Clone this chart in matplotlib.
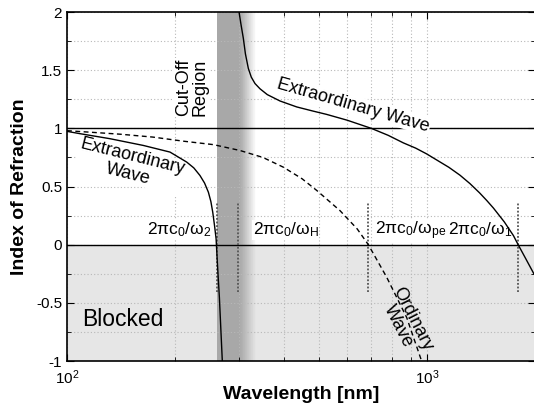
import numpy as np
import matplotlib.pyplot as plt
from matplotlib.ticker import MultipleLocator, LogLocator, NullFormatter

plt.rcParams['font.family'] = ['Liberation Sans', 'DejaVu Sans']
plt.rcParams['mathtext.fontset'] = 'custom'
plt.rcParams['mathtext.rm'] = 'Liberation Sans'
plt.rcParams['mathtext.it'] = 'Liberation Sans:italic'
plt.rcParams['mathtext.bf'] = 'Liberation Sans:bold'

# Extraordinary wave, short-wavelength branch (nm, index)
ext_left_x = [100, 108.7, 131.6, 162.9, 193.2, 215, 225, 234, 241, 247, 251, 254, 257, 259.5, 261, 263, 265, 270]
ext_left_y = [0.974, 0.954, 0.911, 0.853, 0.796, 0.71, 0.66, 0.595, 0.53, 0.451, 0.37, 0.278, 0.16, 0.05, -0.1, -0.28, -0.454, -1.0]

# Extraordinary wave, long-wavelength branch
ext_right_x = [300.5, 304, 308.9, 313, 318.9, 325, 332.8, 343.6, 360, 390.6, 434.6, 480, 526, 600, 700,
               780, 859.5, 930, 998, 1064, 1150, 1235, 1316, 1400, 1465, 1529, 1640, 1738, 1791, 1880, 1983]
ext_right_y = [2.0, 1.9, 1.773, 1.64, 1.515, 1.44, 1.385, 1.34, 1.29, 1.235, 1.184, 1.15, 1.12, 1.07, 1.0,
               0.94, 0.875, 0.83, 0.78, 0.728, 0.665, 0.597, 0.525, 0.445, 0.38, 0.315, 0.195, 0.078, 0.0, -0.12, -0.253]

# Ordinary wave
ord_x = [100, 140, 173, 210, 255, 302, 350, 399, 450, 494, 573, 640, 687, 773, 878, 966]
ord_y = [0.98, 0.95, 0.925, 0.89, 0.86, 0.81, 0.75, 0.666, 0.566, 0.466, 0.293, 0.135, 0.0, -0.281, -0.626, -1.0]

# characteristic wavelengths (nm) and their labels
marker_x = [261.5, 298.6, 687, 1790]
marker_labels = [r'$\mathrm{2\pi c_0/\omega_2}$', r'$\mathrm{2\pi c_0/\omega_H}$',
                 r'$\mathrm{2\pi c_0/\omega_{pe}}$', r'$\mathrm{2\pi c_0/\omega_1}$']
label_x = [252, 328, 718, 1730]
label_ha = ['right', 'left', 'left', 'right']

# cut-off band (nm)
cut_lo, cut_hi, cut_fade = 261, 302, 335

fig = plt.figure(figsize=(5.34, 4.07), dpi=100)
ax = fig.add_axes([0.1255, 0.113, 0.8771, 0.8575])
ax.set_xscale('log')
ax.set_xlim(100, 2000)
ax.set_ylim(-1, 2)

# blocked region
ax.axhspan(-1, 0, color='#e6e6e6', lw=0, zorder=0.2)

# cut-off band with fade on the right
ax.axvspan(cut_lo, cut_hi, color='#a8a8a8', lw=0, zorder=0.3)
edges = np.geomspace(cut_hi, cut_fade, 25)
for i in range(len(edges) - 1):
    a = 1 - (i + 0.5) / (len(edges) - 1)
    ax.axvspan(edges[i], edges[i + 1], color='#a8a8a8', alpha=a, lw=0, zorder=0.3)

# ticks and grid
ax.yaxis.set_major_locator(MultipleLocator(0.5))
ax.yaxis.set_minor_locator(MultipleLocator(0.25))
ax.xaxis.set_minor_locator(LogLocator(subs=np.arange(2, 10)))
ax.xaxis.set_minor_formatter(NullFormatter())
ax.set_yticks([-1, -0.5, 0, 0.5, 1, 1.5, 2])
ax.set_yticklabels(['-1', '-0.5', '0', '0.5', '1', '1.5', '2'])
ax.grid(True, which='both', linestyle=(0, (1, 2)), color='#b8b8b8', lw=0.8)
ax.set_axisbelow('line')

ax.axhline(1, color='black', lw=1, zorder=2)
ax.axhline(0, color='black', lw=1, zorder=2)

ax.plot(ext_left_x, ext_left_y, color='black', lw=1, zorder=5)
ax.plot(ext_right_x, ext_right_y, color='black', lw=1, zorder=5)
ax.plot(ord_x, ord_y, color='black', lw=1, linestyle=(0, (3.5, 2.5)), zorder=5)

for mx in marker_x:
    ax.plot([mx, mx], [-0.41, 0.366], color='#555555', lw=1.3, linestyle=(0, (1, 1)), zorder=2.5)

box = dict(facecolor='white', edgecolor='none', pad=0.5)
for lx, lab, ha in zip(label_x, marker_labels, label_ha):
    ax.text(lx, 0.085, lab, ha=ha, va='baseline', fontsize=12.5, bbox=box, zorder=3)

ax.text(222, 1.35, 'Cut-Off\nRegion', rotation=90, ha='center', va='center', fontsize=13,
        linespacing=1.0, bbox=box, zorder=3)
ax.text(150, 0.68, 'Extraordinary\nWave', rotation=-14, ha='center', va='center', fontsize=13,
        linespacing=1.05, bbox=box, zorder=3)
ax.text(625, 1.2, 'Extraordinary Wave', rotation=-16, ha='center', va='center', fontsize=13,
        bbox=box, zorder=3)
ax.text(870, -0.67, 'Ordinary\nWave', rotation=-63, ha='center', va='center', fontsize=13,
        linespacing=0.95, zorder=3)
ax.text(143, -0.64, 'Blocked', ha='center', va='center', fontsize=16.5, zorder=3)

ax.tick_params(which='both', direction='in', top=True, right=True, labelsize=11)
ax.tick_params(which='major', length=5)
ax.tick_params(which='minor', length=3)
ax.tick_params(axis='x', pad=5.5)
for s in ax.spines.values():
    s.set_linewidth(1.2)

ax.set_xlabel('Wavelength [nm]', fontsize=14, fontweight='bold', labelpad=-1)
ax.set_ylabel('Index of Refraction', fontsize=14, fontweight='bold', labelpad=6)

fig.savefig('out.png', dpi=100)
